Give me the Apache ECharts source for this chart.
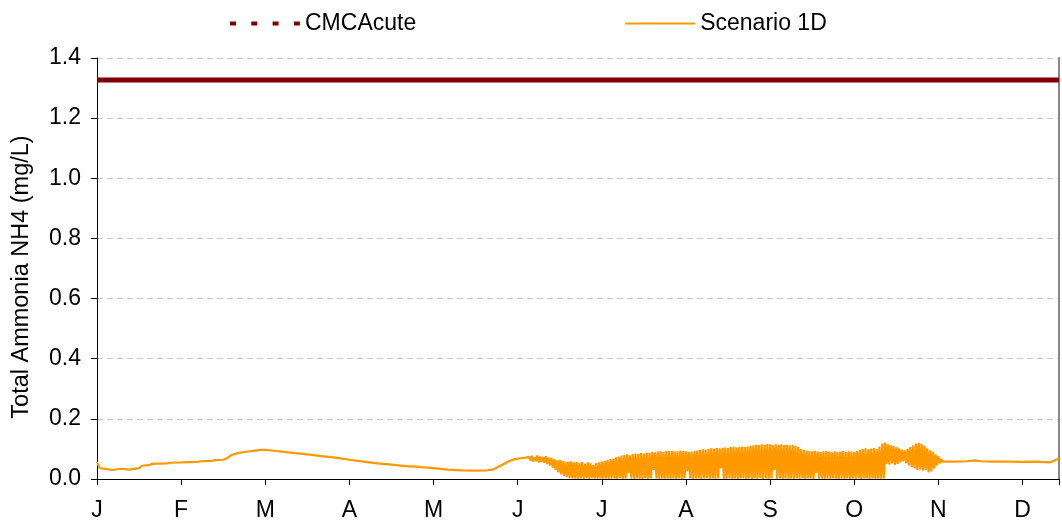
<!DOCTYPE html>
<html><head><meta charset="utf-8">
<script src="https://cdn.jsdelivr.net/npm/echarts@6/dist/echarts.min.js"></script>
<style>html,body{margin:0;padding:0;background:#fff}#c{width:1062px;height:529px}</style>
</head><body><div id="c"></div>
<script>
const monthLabels = ['J','F','M','A','M','J','J','A','S','O','N','D'];
const cmcDays = [0, 343];
const cmcValues = [1.327, 1.327];

const startDays = [0,1,1.5,5.5,6,8.5,9,11.5,12,15,16,18.5,19.5,21,25,26,30,33,36,37,41,42,45,46.5,48,50,52,55,58.5,59,60,63,69,75,80,85,90,95,100,105,110,115,120,125,130,135,139,141,143,145,147,149,151,153];
const startValues = [0.056,0.036,0.030,0.030,0.034,0.034,0.031,0.031,0.035,0.036,0.044,0.046,0.050,0.051,0.052,0.054,0.055,0.056,0.057,0.059,0.060,0.063,0.064,0.070,0.080,0.086,0.089,0.093,0.097,0.100,0.097,0.094,0.088,0.082,0.076,0.071,0.064,0.058,0.052,0.048,0.043,0.040,0.036,0.031,0.029,0.028,0.029,0.031,0.040,0.050,0.060,0.066,0.069,0.071];

const oscStartDay = 154;
const oscHigh = [
 0.074,0.077,0.072,0.078,0.075,0.073,0.076,0.071,0.070,0.066,
 0.062,0.064,0.060,0.058,0.057,0.059,0.055,0.057,0.054,0.056,
 0.050,0.055,0.052,0.047,0.053,0.055,0.058,0.060,0.063,0.066,
 0.068,0.072,0.075,0.078,0.080,0.082,0.079,0.084,0.085,0.083,
 0.086,0.085,0.088,0.087,0.090,0.089,0.091,0.092,0.090,0.094,
 0.093,0.094,0.091,0.092,0.095,0.093,0.092,0.090,0.091,0.093,
 0.095,0.097,0.099,0.098,0.100,0.102,0.101,0.103,0.102,0.104,
 0.105,0.103,0.106,0.107,0.105,0.107,0.108,0.106,0.108,0.110,
 0.112,0.114,0.113,0.115,0.114,0.116,0.115,0.113,0.115,0.114,
 0.115,0.113,0.114,0.112,0.114,0.110,0.106,0.100,0.097,0.095,
 0.093,0.092,0.094,0.091,0.090,0.092,0.093,0.091,0.089,0.092,
 0.090,0.091,0.093,0.090,0.092,0.091,0.090,0.094,0.097,0.100,
 0.102,0.099,0.101,0.103,0.100,0.108,0.118,0.121,0.115,0.112,
 0.110,0.106,0.102,0.098,0.095,0.100,0.106,0.112,0.118,0.120,
 0.117,0.110,0.102,0.095,0.090,0.082,0.075,0.066];
const oscLow = [
 0.062,0.058,0.060,0.055,0.057,0.054,0.050,0.045,0.038,0.030,
 0.022,0.015,0.010,0.006,0.003,0.002,0.002,0.001,0.002,0.001,
 0.002,0.001,0.003,0.002,0.001,0.002,0.001,0.002,0.001,0.002,
 0.002,0.001,0.003,0.001,0.002,0.020,0.002,0.001,0.002,0.001,
 0.001,0.002,0.001,0.003,0.030,0.002,0.001,0.002,0.001,0.002,
 0.001,0.002,0.001,0.002,0.001,0.003,0.025,0.002,0.001,0.002,
 0.002,0.001,0.002,0.003,0.001,0.002,0.001,0.002,0.035,0.001,
 0.001,0.002,0.001,0.002,0.001,0.002,0.002,0.001,0.002,0.001,
 0.002,0.001,0.003,0.001,0.002,0.001,0.002,0.030,0.001,0.002,
 0.001,0.002,0.001,0.002,0.001,0.003,0.001,0.002,0.001,0.002,
 0.002,0.001,0.020,0.001,0.002,0.001,0.002,0.001,0.002,0.001,
 0.001,0.002,0.001,0.002,0.001,0.002,0.001,0.002,0.001,0.002,
 0.002,0.001,0.002,0.001,0.002,0.001,0.002,0.050,0.048,0.052,
 0.047,0.050,0.055,0.060,0.052,0.045,0.040,0.035,0.030,0.032,
 0.028,0.030,0.022,0.025,0.035,0.045,0.052,0.058];

const endDays = [302,305,310,313,315,320,325,330,335,338,339.5,341,343];
const endValues = [0.060,0.058,0.059,0.062,0.059,0.058,0.058,0.057,0.058,0.056,0.055,0.060,0.069];

const scenario = [];
startDays.forEach((d, i) => scenario.push([d, startValues[i]]));
oscHigh.forEach((h, i) => {
  scenario.push([oscStartDay + i, h]);
  scenario.push([oscStartDay + i + 0.5, oscLow[i]]);
});
endDays.forEach((d, i) => scenario.push([d, endValues[i]]));
const cmc = cmcDays.map((d, i) => [d, cmcValues[i]]);

const FONT = 'Liberation Sans, Arial, sans-serif';
const chart = echarts.init(document.getElementById('c'), null, {renderer: 'canvas'});
chart.setOption({
  animation: false,
  backgroundColor: '#fff',
  textStyle: {fontFamily: FONT},
  legend: {
    left: 228, top: 12, padding: 0, itemWidth: 70, itemHeight: 14, itemGap: 208,
    textStyle: {fontSize: 23, color: '#000', fontFamily: FONT},
    data: [
      {name: 'CMCAcute', itemStyle: {opacity: 0}, lineStyle: {type: [6, 15.3], width: 4, color: '#800000'}},
      {name: 'Scenario 1D', itemStyle: {opacity: 0}, lineStyle: {width: 2, color: '#FF9900'}}
    ]
  },
  grid: {left: 97, right: 1, top: 58, bottom: 50, containLabel: false},
  xAxis: {
    type: 'value', min: 0, max: 343, interval: 30,
    axisLine: {show: true, lineStyle: {color: '#000', width: 1}},
    axisTick: {show: true, length: 6, lineStyle: {color: '#000'}},
    splitLine: {show: false},
    axisLabel: {
      fontSize: 23, color: '#000', margin: 20, fontFamily: FONT,
      formatter: v => (v % 30 === 0 && v / 30 < monthLabels.length) ? monthLabels[v / 30] : ''
    }
  },
  yAxis: [{
    type: 'value', min: 0, max: 1.4, interval: 0.2,
    name: 'Total Ammonia NH4 (mg/L)', nameLocation: 'middle', nameGap: 63,
    nameTextStyle: {fontSize: 23.5, color: '#000', fontFamily: FONT, padding: [0, 17, 0, 0]},
    axisLine: {show: true, lineStyle: {color: '#000', width: 1}},
    axisTick: {show: true, length: 6, lineStyle: {color: '#000'}},
    splitLine: {show: true, lineStyle: {color: '#c8c8c8', type: [6, 4], width: 1}},
    axisLabel: {fontSize: 23, color: '#000', margin: 16, fontFamily: FONT, formatter: v => v.toFixed(1)}
  }, {
    type: 'value', position: 'right', min: 0, max: 1.4,
    axisLine: {show: true, lineStyle: {color: '#888', width: 2}},
    axisTick: {show: false}, axisLabel: {show: false}, splitLine: {show: false}
  }],
  series: [{
    name: 'CMCAcute', type: 'line', data: cmc, symbol: 'none',
    lineStyle: {color: '#800000', width: 5}, itemStyle: {color: '#800000'}, z: 3
  }, {
    name: 'Scenario 1D', type: 'line', data: scenario, symbol: 'none',
    lineStyle: {color: '#FF9900', width: 2.2}, itemStyle: {color: '#FF9900'}, z: 2
  }]
});
</script></body></html>
